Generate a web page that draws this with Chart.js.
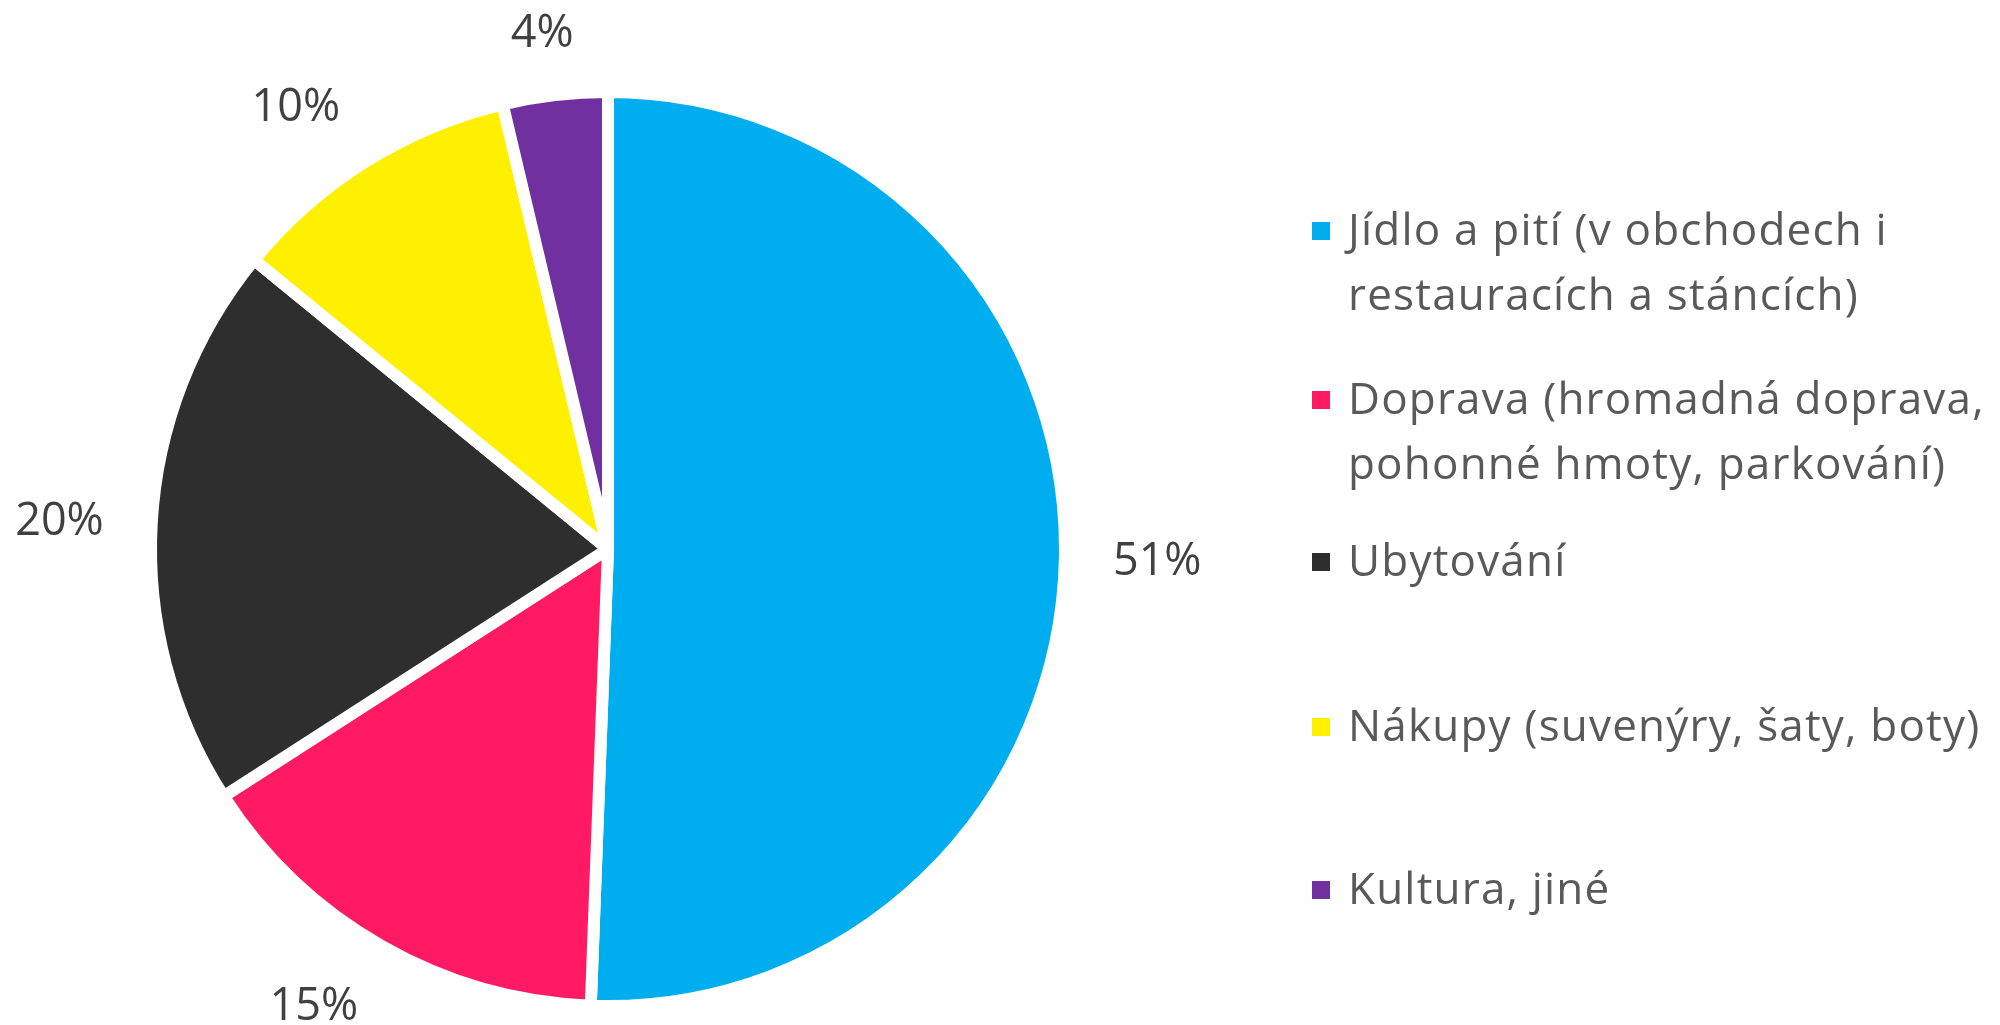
<!DOCTYPE html>
<html>
<head>
<meta charset="utf-8">
<script src="https://cdn.jsdelivr.net/npm/chart.js@4.4.1/dist/chart.umd.min.js"></script>
<style>
html, body { margin: 0; padding: 0; background: #fff; }
canvas { display: block; }
</style>
</head>
<body>
<canvas id="chartSpending" width="2000" height="1025"></canvas>
<script>
// categories (each entry = legend lines), shares in %
var categories = [
    ['Jídlo a pití (v obchodech i', 'restauracích a stáncích)'],
    ['Doprava (hromadná doprava,', 'pohonné hmoty, parkování)'],
    ['Ubytování'],
    ['Nákupy (suvenýry, šaty, boty)'],
    ['Kultura, jiné']
];
var shares = [50.6, 15.3, 20.0, 10.4, 3.7];
var sliceColors = ['#00AEEF', '#FF1A63', '#2E2E2E', '#FFF000', '#7030A0'];

// percentage labels outside the slices ("outside end": nearest corner of the
// label box sits a fixed gap beyond the rim, on the slice's mid angle)
var outsideLabels = {
    id: 'outsideLabels',
    afterDatasetsDraw: function (chart, args, opts) {
        var ctx = chart.ctx;
        var meta = chart.getDatasetMeta(0);
        var data = chart.data.datasets[0].data;
        var total = data.reduce(function (a, b) { return a + b; }, 0);
        var clamp = function (v) { return Math.max(-1, Math.min(1, v)); };
        ctx.save();
        ctx.font = opts.size + 'px ' + opts.family;
        ctx.fillStyle = opts.color;
        ctx.textAlign = 'center';
        ctx.textBaseline = 'alphabetic';
        meta.data.forEach(function (arc, i) {
            var p = arc.getProps(['x', 'y', 'startAngle', 'endAngle', 'outerRadius'], true);
            var mid = (p.startAngle + p.endAngle) / 2;
            var text = Math.round(data[i] / total * 100) + '%';
            var halfW = ctx.measureText(text).width / 2;
            var halfH = opts.size * 0.36;
            var dx = Math.cos(mid);
            var dy = Math.sin(mid);
            var d = p.outerRadius + opts.gap;
            var cx = p.x + dx * d + clamp(dx * 2) * halfW;
            var cy = p.y + dy * d + clamp(dy * 2) * halfH;
            ctx.fillText(text, cx, cy + halfH);
        });
        ctx.restore();
    }
};

// legend on the right, multi-line entries like the Excel original
var sideLegend = {
    id: 'sideLegend',
    afterDraw: function (chart, args, opts) {
        var ctx = chart.ctx;
        var labels = chart.data.labels;
        var colors = chart.data.datasets[0].backgroundColor;
        ctx.save();
        ctx.font = opts.size + 'px ' + opts.family;
        ctx.textAlign = 'left';
        ctx.textBaseline = 'alphabetic';
        if ('letterSpacing' in ctx) ctx.letterSpacing = opts.letterSpacing + 'px';
        labels.forEach(function (lines, i) {
            var base = opts.baselines[i];
            ctx.fillStyle = colors[i];
            ctx.fillRect(opts.markerX, base - 14 - opts.box / 2, opts.box, opts.box);
            ctx.fillStyle = opts.color;
            lines.forEach(function (line, j) {
                ctx.fillText(line, opts.textX, base + j * opts.lineHeight);
            });
        });
        ctx.restore();
    }
};

var ctxSpending = document.getElementById('chartSpending');

var chartSpending = new Chart(ctxSpending, {
    type: 'pie',
    data: {
        labels: categories,
        datasets: [{
            data: shares,
            backgroundColor: sliceColors,
            borderColor: '#ffffff',
            borderWidth: 12
        }]
    },
    options: {
        responsive: false,
        animation: false,
        devicePixelRatio: 1,
        layout: {
            padding: { left: 145, top: 86, right: 929, bottom: 13 }
        },
        plugins: {
            legend: { display: false },
            tooltip: { enabled: false },
            outsideLabels: {
                family: '"Open Sans", sans-serif',
                size: 45,
                color: '#404040',
                gap: 48
            },
            sideLegend: {
                family: '"Open Sans", sans-serif',
                size: 44,
                letterSpacing: 1.2,
                color: '#595959',
                markerX: 1312,
                box: 18,
                textX: 1348,
                lineHeight: 65,
                baselines: [245, 414, 576, 741, 904]
            }
        }
    },
    plugins: [outsideLabels, sideLegend]
});
</script>
</body>
</html>
